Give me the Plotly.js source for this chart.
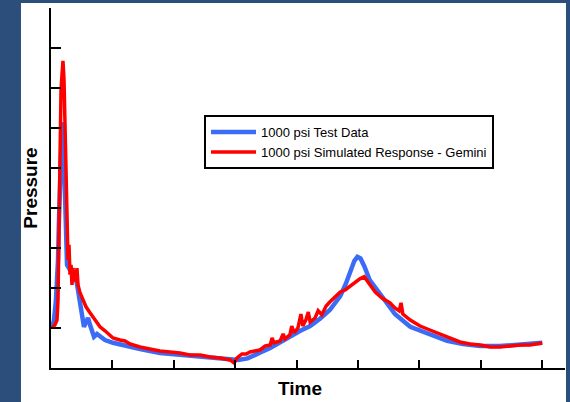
<!DOCTYPE html>
<html>
<head>
<meta charset="utf-8">
<script src="https://cdn.plot.ly/plotly-3.0.1.min.js"></script>
<style>html,body{margin:0;padding:0;background:#2b4f7a;}#chart{width:570px;height:402px;}</style>
</head>
<body>
<div id="chart"></div>
<script>
// Test data (blue)
const testTime = [0.016,0.049,0.081,0.098,0.114,0.130,0.147,0.163,0.179,0.195,0.212,0.228,0.244,0.261,0.309,0.358,0.407,0.440,0.472,0.505,0.537,0.570,0.603,0.635,0.668,0.700,0.749,0.798,0.879,1.01,1.205,1.45,1.775,2.1,2.43,2.75,2.9,3.05,3.2,3.3,3.4,3.57,3.73,3.89,4.06,4.22,4.38,4.54,4.71,4.80,4.88,4.94,4.99,5.04,5.10,5.19,5.36,5.6,5.85,6.17,6.45,6.71,6.99,7.31,7.64,8.0];
const testPressure = [1.0,1.2,1.7,2.08,2.7,3.7,4.7,5.45,6.08,6.13,5.2,3.95,2.95,2.58,2.45,2.4,2.25,1.95,1.58,1.2,1.03,1.15,1.25,1.08,0.88,0.78,0.85,0.8,0.7,0.63,0.55,0.475,0.375,0.325,0.275,0.225,0.2,0.2,0.24,0.3,0.38,0.5,0.65,0.78,0.93,1.05,1.23,1.45,1.8,2.1,2.45,2.68,2.78,2.74,2.55,2.2,1.85,1.35,1.03,0.83,0.68,0.6,0.55,0.55,0.58,0.63];
// Simulated response (red)
const simTime = [0.016,0.065,0.098,0.114,0.130,0.147,0.163,0.179,0.195,0.212,0.228,0.244,0.261,0.277,0.293,0.309,0.326,0.342,0.358,0.375,0.391,0.407,0.423,0.440,0.472,0.521,0.570,0.635,0.717,0.798,0.879,0.961,1.01,1.124,1.205,1.287,1.45,1.61,1.775,1.94,2.1,2.26,2.43,2.59,2.75,2.92,2.98,3.03,3.11,3.18,3.24,3.32,3.4,3.49,3.57,3.6,3.63,3.73,3.78,3.81,3.89,3.92,3.96,4.02,4.07,4.1,4.15,4.19,4.22,4.3,4.35,4.41,4.48,4.54,4.63,4.71,4.79,4.87,4.95,5.03,5.10,5.16,5.28,5.39,5.52,5.6,5.67,5.70,5.73,5.85,6.01,6.17,6.34,6.5,6.66,6.82,6.99,7.15,7.31,7.48,7.64,7.8,8.0];
const simPressure = [1.0,1.08,1.2,1.7,3.45,5.7,6.95,7.33,7.68,7.2,5.95,4.45,3.45,2.7,3.08,2.33,2.58,2.08,2.5,2.2,2.45,2.15,2.5,2.08,1.88,1.7,1.53,1.38,1.2,1.03,0.93,0.8,0.75,0.7,0.675,0.6,0.525,0.475,0.425,0.4,0.375,0.325,0.325,0.275,0.25,0.2,0.125,0.25,0.35,0.35,0.4,0.425,0.45,0.55,0.575,0.75,0.63,0.675,0.85,0.73,0.83,1.05,0.88,1.0,1.35,1.05,1.2,1.4,1.15,1.25,1.43,1.33,1.55,1.65,1.78,1.9,1.95,2.05,2.15,2.23,2.28,2.15,1.9,1.75,1.63,1.5,1.43,1.63,1.35,1.2,1.05,0.95,0.85,0.75,0.65,0.6,0.575,0.525,0.525,0.55,0.575,0.575,0.625];
const seriesNames = ['1000 psi Test Data', '1000 psi Simulated Response - Gemini'];
const xTicks = [1,2,3,4,5,6,7,8];
const yTicks = [1,2,3,4,5,6,7,8,9];

const titleFont = {size: 19, family: 'Liberation Sans, Arial, sans-serif', weight: 'bold', color: '#000'};

const traces = [
  {x: testTime, y: testPressure, name: seriesNames[0], mode: 'lines', line: {color: '#3b6cf6', width: 4.5}},
  {x: simTime, y: simPressure, name: seriesNames[1], mode: 'lines', line: {color: '#ff0000', width: 3.5}}
];

const layout = {
  width: 570, height: 402,
  margin: {l: 51, r: 5, t: 8, b: 34, pad: 0},
  paper_bgcolor: '#2b4f7a',
  plot_bgcolor: 'rgba(0,0,0,0)',
  font: {family: 'Liberation Sans, Arial, sans-serif', color: '#000'},
  showlegend: true,
  legend: {
    x: 0.2977, y: 0.7026, xanchor: 'left', yanchor: 'top',
    bgcolor: '#ffffff', bordercolor: '#000', borderwidth: 2,
    font: {size: 13, family: 'Liberation Sans, Arial, sans-serif', color: '#000'},
    tracegroupgap: 0, itemwidth: 45, entrywidth: 305, entrywidthmode: 'pixels'
  },
  xaxis: {
    range: [0, 8.37], showgrid: false, zeroline: false,
    showline: true, linecolor: '#000', linewidth: 2,
    ticks: 'inside', ticklen: 8, tickwidth: 2, tickcolor: '#000',
    tickvals: xTicks, showticklabels: false
  },
  yaxis: {
    range: [0, 9], showgrid: false, zeroline: false,
    showline: true, linecolor: '#000', linewidth: 2,
    ticks: 'inside', ticklen: 10, tickwidth: 2, tickcolor: '#000',
    tickvals: yTicks, showticklabels: false,
    title: {text: 'Pressure', font: titleFont, standoff: 6}
  },
  annotations: [
    {text: 'Time', xref: 'paper', yref: 'paper', x: 0.4844, y: -0.0583, xanchor: 'center', yanchor: 'middle', showarrow: false, font: titleFont}
  ],
  shapes: [
    {type: 'rect', xref: 'paper', yref: 'paper', x0: -0.0584, x1: 1.0019, y0: -0.0944, y1: 1.0139,
     fillcolor: '#ffffff', line: {width: 0}, layer: 'below'}
  ]
};

Plotly.newPlot('chart', traces, layout, {displayModeBar: false, staticPlot: true});
</script>
</body>
</html>
